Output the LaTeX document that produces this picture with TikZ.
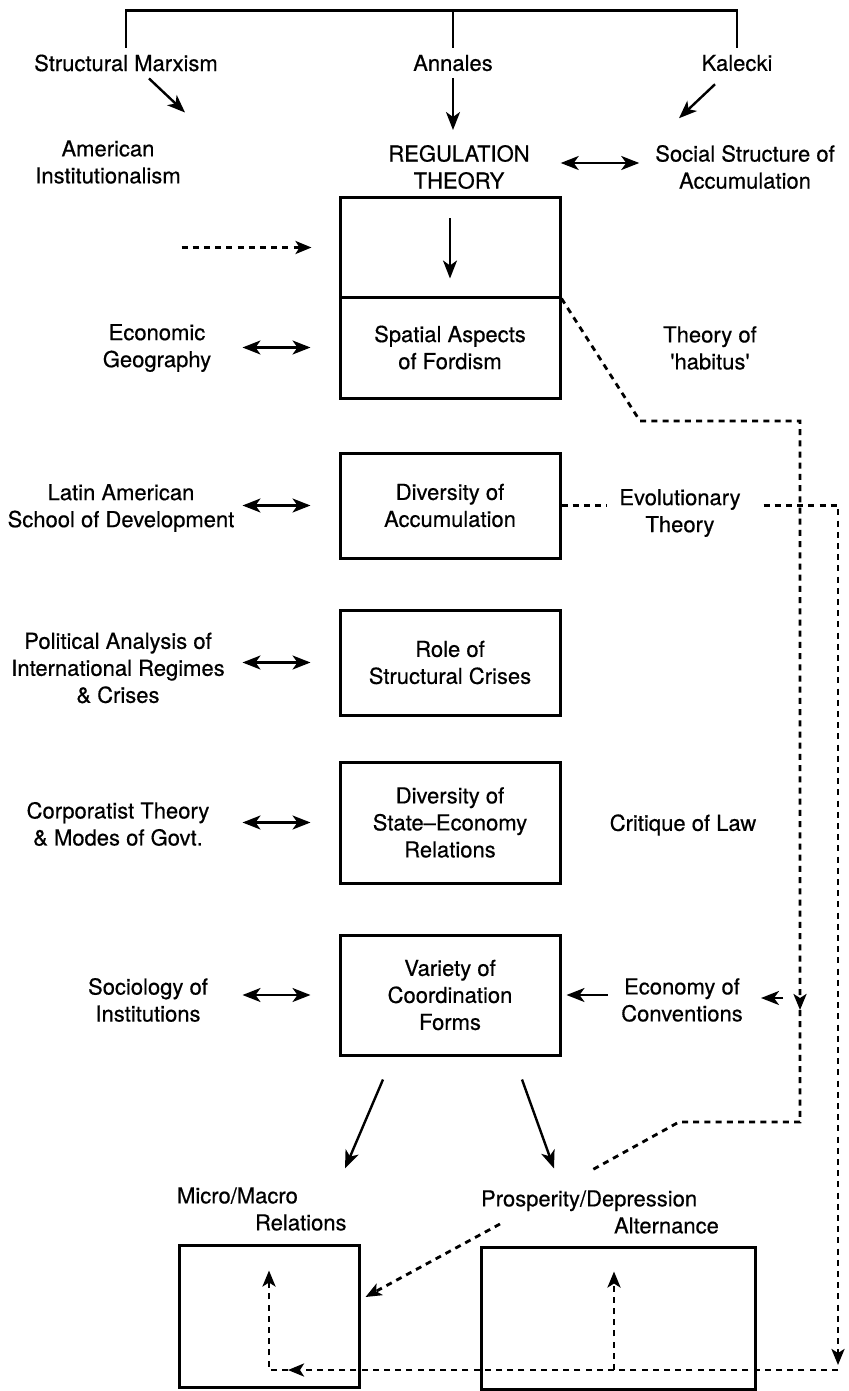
\documentclass[tikz,border=0pt]{standalone}
\usepackage{fontspec}
\setmainfont{TeX Gyre Heros}[FakeBold=0.5]
\usetikzlibrary{%
        arrows.meta,
        calc
    }
\tikzset{%
    box/.style={draw, line width=1.5pt, minimum width=110pt, inner sep=0pt, align=center},
    lbl/.style={align=center},
    arr/.style={-{Stealth[length=9pt, width=7pt, inset=2.5pt]}, line width=1.2pt},
    dbl/.style={{Stealth[length=9pt, width=7pt, inset=2.5pt]}-{Stealth[length=9pt, width=7pt, inset=2.5pt]}, line width=1.2pt},
    dsh/.style={line width=1.4pt, dash pattern=on 3pt off 2.6pt},
    darr/.style={dsh, -{Stealth[length=8pt, width=6.5pt, inset=2pt]}}
}

\begin{document}
\begin{tikzpicture}[x=0.5pt, y=-0.5pt, every node/.style={font=\fontsize{11}{13.5}\selectfont}]

    \useasboundingbox (0,0) rectangle (848,1391);

    % Sources
    \node (marx) at (126,63) {Structural Marxism};
    \node (annales) at (453,63) {Annales};
    \node (kalecki) at (737,63) {Kalecki};

    \draw[line width=1.1pt] (marx.north) -- ++(0,-37) -| (kalecki.north);
    \draw[line width=1.1pt] (annales.north) -- ++(0,-37);

    % Schools
    \node[lbl] (amer) at (108,162) {American\\Institutionalism};
    \node[lbl] (reg) at (459,167) {REGULATION\\THEORY};
    \node[lbl] (ssa) at (745,167) {Social Structure of\\Accumulation};

    \draw[arr] ([xshift=11.5pt]marx.south) -- ++(36,34);
    \draw[arr] (annales.south) -- ($(annales.south |- reg.north)+(0,-8)$);
    \draw[arr] ([xshift=-11pt, yshift=-3pt]kalecki.south) -- ++(-36,34);
    \draw[dbl] ([xshift=12pt, yshift=2pt]reg.east) -- ([xshift=-4.5pt, yshift=2pt]ssa.west);

    % Column of boxes
    \node[box, minimum height=49.5pt] (regbox) at (450,247.5) {};
    \node[box, minimum height=50.5pt] (spatial) at (450,347.5) {Spatial Aspects\\of Fordism};
    \node[box, minimum height=52.5pt] (divacc) at (450,505.5) {Diversity of\\Accumulation};
    \node[box, minimum height=52.5pt] (crises) at (450,662.5) {Role of\\Structural Crises};
    \node[box, minimum height=60.5pt] (state) at (450,822.5) {Diversity of\\State--Economy\\Relations};
    \node[box, minimum height=60pt] (coord) at (450,995) {Variety of\\Coordination\\Forms};

    \draw[arr] ([yshift=-11pt]regbox.north) -- ([yshift=10pt]regbox.south);
    \draw[darr] ([xshift=-78.5pt]regbox.west) -- ([xshift=-13.5pt]regbox.west);

    % Neighbouring fields, left
    \node[lbl] (geog) at (157,348) {Economic\\Geography};
    \node[lbl] (latin) at (121,508) {Latin American\\School of Development};
    \node[lbl] (polit) at (118,668) {Political Analysis of\\International Regimes\\\& Crises};
    \node[lbl] (corp) at (118,824) {Corporatist Theory\\\& Modes of Govt.};
    \node[lbl] (socio) at (148,1000) {Sociology of\\Institutions};

    \foreach \field in {spatial, divacc, crises, state, coord}{%
        \draw[dbl] ([xshift=-48pt]\field.west) -- ([xshift=-14pt]\field.west);
    };

    % Neighbouring fields, right
    \node[lbl] (habitus) at (710,348) {Theory of\\\textquotesingle habitus\textquotesingle};
    \node[lbl] (evol) at (680,513) {Evolutionary\\Theory};
    \node[lbl] (law) at (683,825) {Critique of Law};
    \node[lbl] (conv) at (682,1000) {Economy of\\Conventions};

    \draw[arr] ([xshift=23pt]coord.east) -- ([xshift=2.5pt]coord.east);

    % Outcomes
    \node[align=left, anchor=west] (micro) at (170,1209)
        {Micro/Macro\\\hspace*{39pt}Relations};
    \node[align=left, anchor=west] (prosp) at (474,1212)
        {Prosperity/Depression\\\hspace*{66.5pt}Alternance};
    \node[box, minimum width=90pt, minimum height=71pt] (microbox) at (269,1316) {};
    \node[box, minimum width=137pt, minimum height=71pt] (prospbox) at (618,1318) {};

    \draw[arr] ([xshift=-33.5pt, yshift=-11.5pt]coord.south) -- ++(-38,89);
    \draw[arr] ([xshift=36pt, yshift=-11.5pt]coord.south) -- ++(32,89);

    % Dashed feedback loops
    \coordinate (knee) at (640,421);
    \coordinate (drop) at (800,1122);
    \coordinate (kink) at (679,1122);
    \coordinate (railR) at (838,1370);
    \coordinate (railM) at (614,1370);
    \coordinate (railL) at (269,1370);

    \draw[darr] (regbox.south east) -- (knee) -| ($(drop |- conv)+(0,10)$);
    \draw[dsh] ($(drop |- conv)+(0,10)$) -- (drop) -- (kink) -- ++(-87,48);
    \draw[arr] ($(drop |- conv)+(-17,-2)$) -- ++(-22,0);

    \draw[dsh] (divacc.east) -- ++(45,0);
    \draw[darr] ($(divacc.east)+(202,0)$) -| ($(railR)+(0,-5)$);
    \draw[darr] (railR) -- ($(railL)+(19,0)$);
    \draw[darr] ($(railL)+(19,0)$) -- (railL) -- ($(railL |- microbox.north)+(0,27)$);
    \draw[darr] (railM) -- ($(railM |- prospbox.north)+(0,26)$);

    \draw[darr] ($(prosp.west)+(26,12)$) -- ($(microbox.east)+(5,-19)$);

\end{tikzpicture}
\end{document}
